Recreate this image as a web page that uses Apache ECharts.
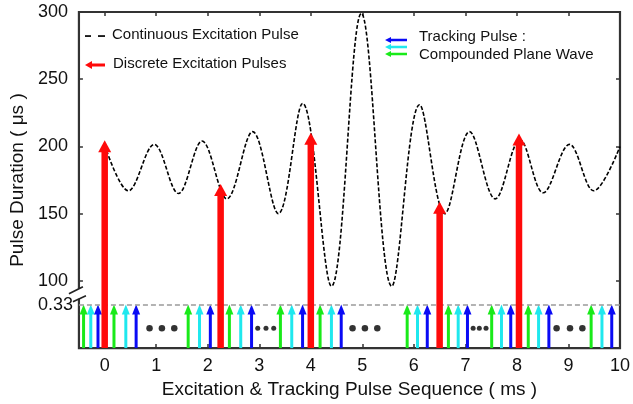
<!DOCTYPE html>
<html>
<head>
<meta charset="utf-8">
<script src="https://cdn.jsdelivr.net/npm/echarts@6/dist/echarts.min.js"></script>
<style>
  html, body { margin: 0; padding: 0; background: #fff; }
  #main { width: 633px; height: 404px; }
</style>
</head>
<body>
<div id="main"></div>
<script>
// Axis ticks: time (ms) and pulse duration (µs)
const xTicks = [0, 1, 2, 3, 4, 5, 6, 7, 8, 9, 10];
const yTicks = [100, 150, 200, 250, 300];
const lowTicks = [0.33];

// Continuous excitation pulse: turning points of the modulated duration curve
const curveX = [0, 0.46, 0.96, 1.43, 1.89, 2.37, 2.87, 3.37, 3.84, 4.40, 4.98, 5.57, 6.11, 6.60, 7.08, 7.58, 8.06, 8.51, 9.02, 9.49, 10];
const curveY = [201, 167, 201.5, 165, 204, 161, 211, 150, 232, 96, 299, 96, 231, 150, 211, 161, 205, 165.5, 201.5, 167, 200];

// Discrete excitation pulses (ms, µs)
const excitationX = [0, 2.25, 4.0, 6.5, 8.04];
const excitationY = [204.6, 172.1, 210.1, 158.8, 209.6];

// Tracking pulses of the compounded plane wave, one list per steering angle
const trackingLevel = 0.33;
const greenX = [-0.41, 0.18, 1.62, 2.42, 3.41, 4.18, 5.87, 6.67, 7.51, 8.22, 9.44];
const cyanX  = [-0.27, 0.41, 1.84, 2.64, 3.63, 4.40, 6.07, 6.86, 7.70, 8.42, 9.65];
const blueX  = [-0.13, 0.61, 2.05, 2.85, 3.84, 4.59, 6.26, 7.04, 7.88, 8.62, 9.84];

// Ellipsis dots between tracking bursts
const dotLevel = 0.15;
const wideDotsX = [0.87, 1.11, 1.35, 4.81, 5.05, 5.29, 8.77, 9.03, 9.27];
const tightDotsX = [2.97, 3.13, 3.28, 7.15, 7.27, 7.40];

const FONT = "'Liberation Sans', Arial, Helvetica, sans-serif";
const UPPER_MIN = 50, UPPER_MAX = 300;   // broken axis: upper part
const LOWER_MIN = 0, LOWER_MAX = 2.55;   // lower part (tracking level)

const RED = '#ff0a0a', GREEN = '#19ea19', CYAN = '#1fe8ee', BLUE = '#0a0af5';

const chart = echarts.init(document.getElementById('main'), null, { renderer: 'canvas' });

function arrowSeries(name, xs, ys, yAxisIndex, base, color, shaftW, headW, headH, z, extra) {
  return Object.assign({
    type: 'custom',
    name: name,
    xAxisIndex: 0,
    yAxisIndex: yAxisIndex,
    z: z,
    clip: false,
    silent: true,
    data: xs.map((x, i) => [x, Array.isArray(ys) ? ys[i] : ys]),
    encode: { x: 0, y: 1 },
    renderItem: function (params, api) {
      const tip = api.coord([api.value(0), api.value(1)]);
      const foot = api.coord([api.value(0), base]);
      return {
        type: 'group',
        children: [
          {
            type: 'rect',
            shape: { x: tip[0] - shaftW / 2, y: tip[1] + headH - 1, width: shaftW, height: foot[1] - tip[1] - headH + 1 },
            style: { fill: color }
          },
          {
            type: 'polygon',
            shape: { points: [[tip[0], tip[1]], [tip[0] - headW / 2, tip[1] + headH], [tip[0] + headW / 2, tip[1] + headH]] },
            style: { fill: color }
          }
        ]
      };
    }
  }, extra || {});
}

const tickStyle = { show: true, inside: true, length: 4, lineStyle: { color: '#333', width: 1.5 } };
const noLine = { show: false, onZero: false };

const option = {
  backgroundColor: '#fff',
  animation: false,
  textStyle: { fontFamily: FONT },
  grid: {
    left: 76, right: 9, top: 12, bottom: 52,
    show: true, borderColor: '#333', borderWidth: 2.2, backgroundColor: '#fff'
  },
  xAxis: [
    {
      type: 'value', position: 'bottom', min: -0.5, max: 10,
      name: 'Excitation & Tracking Pulse Sequence ( ms )',
      nameLocation: 'middle', nameGap: 28,
      nameTextStyle: { fontSize: 19, color: '#111', fontFamily: FONT },
      axisLine: noLine,
      axisTick: Object.assign({ customValues: xTicks }, tickStyle),
      axisLabel: { customValues: xTicks, fontSize: 18, color: '#111', margin: 9, fontFamily: FONT },
      splitLine: { show: false }
    },
    {
      type: 'value', position: 'top', min: -0.5, max: 10,
      axisLine: noLine,
      axisTick: Object.assign({ customValues: xTicks }, tickStyle),
      axisLabel: { show: false },
      splitLine: { show: false }
    }
  ],
  yAxis: [
    {
      type: 'value', position: 'left', min: UPPER_MIN, max: UPPER_MAX,
      name: 'Pulse Duration ( μs )',
      nameLocation: 'middle', nameGap: 47, nameRotate: 90,
      nameTextStyle: { fontSize: 19, color: '#111', fontFamily: FONT },
      axisLine: noLine,
      axisTick: Object.assign({ customValues: yTicks }, tickStyle),
      axisLabel: { customValues: yTicks, fontSize: 18, color: '#111', margin: 11, fontFamily: FONT },
      splitLine: { show: false }
    },
    {
      type: 'value', position: 'left', min: LOWER_MIN, max: LOWER_MAX,
      axisLine: noLine,
      axisTick: { show: false },
      axisLabel: { customValues: lowTicks, fontSize: 18, color: '#111', margin: 6, fontFamily: FONT },
      splitLine: { show: false }
    },
    {
      type: 'value', position: 'right', min: UPPER_MIN, max: UPPER_MAX,
      axisLine: noLine,
      axisTick: Object.assign({ customValues: yTicks }, tickStyle),
      axisLabel: { show: false },
      splitLine: { show: false }
    }
  ],
  series: [
    {
      type: 'line',
      name: 'Continuous Excitation Pulse',
      xAxisIndex: 0, yAxisIndex: 0,
      data: curveX.map((x, i) => [x, curveY[i]]),
      smooth: 0.36,
      showSymbol: false,
      symbol: 'none',
      silent: true,
      z: 5,
      lineStyle: { color: '#000', width: 1.6, type: [4, 2] }
    },
    arrowSeries('green', greenX, trackingLevel, 1, LOWER_MIN, GREEN, 3, 8, 10, 3, {
      markLine: {
        silent: true, symbol: 'none', label: { show: false },
        lineStyle: { color: '#9a9a9a', type: [5, 3], width: 1.5 },
        data: [{ yAxis: trackingLevel }]
      }
    }),
    arrowSeries('cyan', cyanX, trackingLevel, 1, LOWER_MIN, CYAN, 3, 8, 10, 3),
    arrowSeries('blue', blueX, trackingLevel, 1, LOWER_MIN, BLUE, 3, 8, 10, 3),
    arrowSeries('Discrete Excitation Pulses', excitationX, excitationY, 0, UPPER_MIN, RED, 6.5, 13, 12, 6),
    {
      type: 'scatter', xAxisIndex: 0, yAxisIndex: 1, silent: true,
      data: wideDotsX.map(x => [x, dotLevel]),
      symbol: 'circle', symbolSize: 6.5, itemStyle: { color: '#000' }
    },
    {
      type: 'scatter', xAxisIndex: 0, yAxisIndex: 1, silent: true,
      data: tightDotsX.map(x => [x, dotLevel]),
      symbol: 'circle', symbolSize: 5, itemStyle: { color: '#000' }
    }
  ]
};

chart.setOption(option);

// Axis break marks and the two legends
const axisX = chart.convertToPixel({ xAxisIndex: 0 }, -0.5);
const yHi = chart.convertToPixel({ yAxisIndex: 0 }, 100);
const yLo = chart.convertToPixel({ yAxisIndex: 1 }, trackingLevel);
const yMid = (yHi + yLo) / 2;

function legendText(x, y, text) {
  return {
    type: 'text', left: x, top: y - 9, z: 50,
    style: { text: text, fill: '#111', fontSize: 15, fontFamily: FONT }
  };
}
function leftArrow(x0, x1, y, color, shaftW, headW, headL) {
  return {
    type: 'polygon', z: 50,
    shape: {
      points: [
        [x0, y], [x0 + headL, y - headW / 2], [x0 + headL, y - shaftW / 2], [x1, y - shaftW / 2],
        [x1, y + shaftW / 2], [x0 + headL, y + shaftW / 2], [x0 + headL, y + headW / 2]
      ]
    },
    style: { fill: color }
  };
}

chart.setOption({
  graphic: [
    // axis break
    { type: 'rect', z: 60, shape: { x: axisX - 3, y: yMid - 4, width: 6, height: 10 }, style: { fill: '#fff' } },
    { type: 'line', z: 61, shape: { x1: axisX - 10, y1: yMid + 1, x2: axisX + 4, y2: yMid - 6 }, style: { stroke: '#222', lineWidth: 1.6 } },
    { type: 'line', z: 61, shape: { x1: axisX - 6, y1: yMid + 9, x2: axisX + 7, y2: yMid + 3 }, style: { stroke: '#222', lineWidth: 1.6 } },
    // legend: continuous excitation (two dashes)
    { type: 'rect', z: 50, shape: { x: 85, y: 35.2, width: 6, height: 1.7 }, style: { fill: '#000' } },
    { type: 'rect', z: 50, shape: { x: 98, y: 35.2, width: 7, height: 1.7 }, style: { fill: '#000' } },
    legendText(112, 36, 'Continuous Excitation Pulse'),
    // legend: discrete excitation
    leftArrow(85, 105, 65, RED, 3.2, 8, 7),
    legendText(113, 65, 'Discrete Excitation Pulses'),
    // legend: tracking pulses
    leftArrow(385, 407, 40, BLUE, 2.4, 6, 6),
    leftArrow(385, 407, 47, CYAN, 2.4, 6, 6),
    leftArrow(385, 407, 54, GREEN, 2.4, 6, 6),
    legendText(419, 38, 'Tracking Pulse :'),
    legendText(419, 56, 'Compounded Plane Wave')
  ]
});
</script>
</body>
</html>
